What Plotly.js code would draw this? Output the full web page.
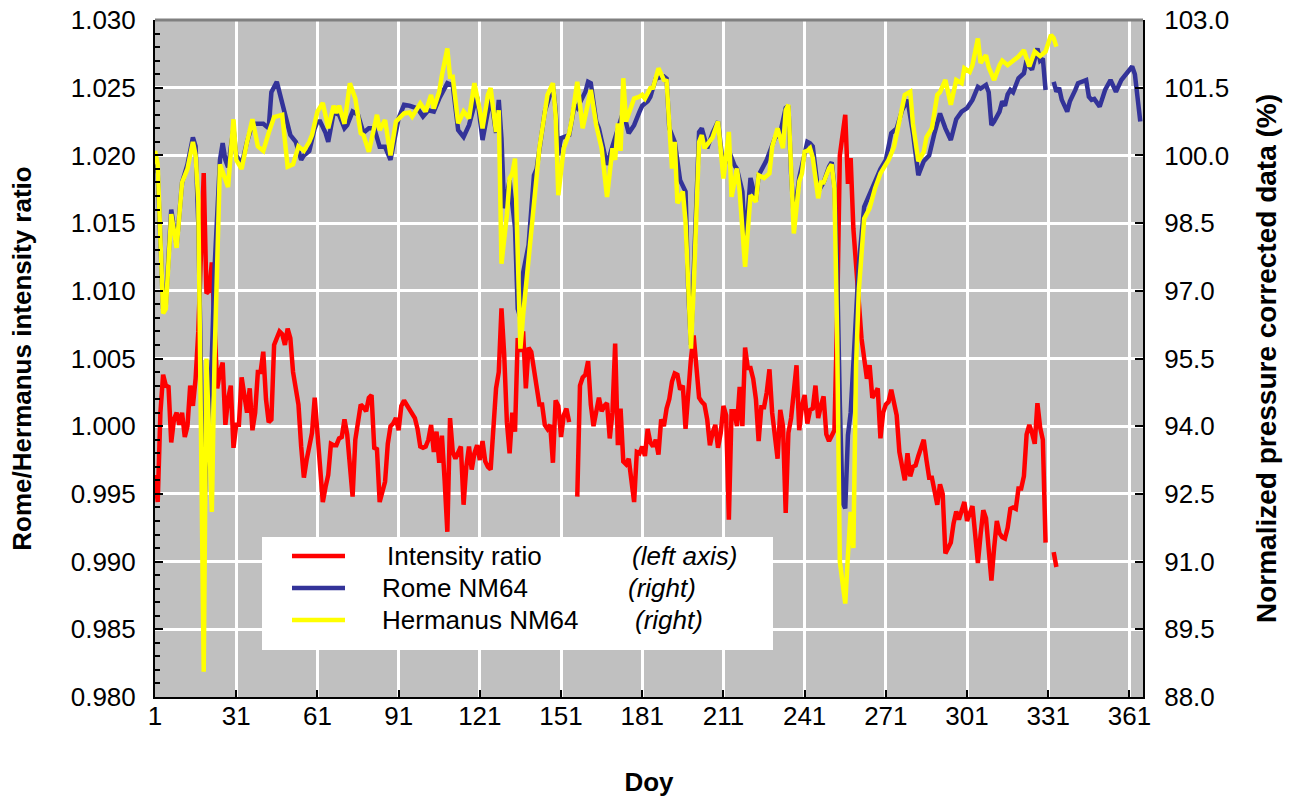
<!DOCTYPE html>
<html>
<head>
<meta charset="utf-8">
<script src="https://cdn.plot.ly/plotly-3.0.1.min.js"></script>
<style>html,body{margin:0;padding:0;background:#fff;}#chart{width:1298px;height:800px;}</style>
</head>
<body>
<div id="chart"></div>
<script>
// ---- Data ----
const xTickDays = [1,31,61,91,121,151,181,211,241,271,301,331,361];

// Intensity ratio (left axis), daily from day 1; null = missing
const ratioValues = [
0.9964,0.9944,1.0010,1.0038,1.0030,1.0029,0.9988,1.0005,1.0010,1.0001,
1.0010,0.9992,1.0000,1.0030,1.0015,1.0035,1.0070,1.0140,1.0187,1.0098,
1.0100,1.0121,1.0070,1.0028,1.0040,1.0047,1.0001,1.0020,1.0030,0.9984,
1.0001,1.0001,1.0036,1.0020,1.0010,1.0028,0.9997,1.0010,1.0040,1.0040,
1.0055,1.0020,1.0003,1.0005,1.0060,1.0065,1.0070,1.0068,1.0060,1.0072,
1.0065,1.0040,1.0030,1.0016,0.9985,0.9962,0.9975,0.9984,0.9995,1.0021,
0.9996,0.9966,0.9944,0.9955,0.9964,0.9987,0.9986,0.9986,0.9991,0.9992,
1.0005,0.9994,0.9970,0.9948,0.9990,1.0006,1.0016,1.0014,1.0011,1.0021,
1.0023,0.9984,0.9983,0.9944,0.9952,0.9959,0.9987,1.0000,1.0002,1.0006,
0.9997,1.0015,1.0019,1.0016,1.0012,1.0010,1.0006,0.9998,0.9985,0.9984,
0.9985,0.9990,1.0001,0.9981,0.9996,0.9973,0.9993,0.9960,0.9922,1.0006,
0.9981,0.9976,0.9980,0.9985,0.9942,0.9970,0.9985,0.9968,0.9980,0.9986,
0.9975,0.9989,0.9974,0.9970,0.9968,1.0003,1.0028,1.0040,1.0087,1.0053,
1.0003,0.9980,1.0010,0.9996,1.0065,1.0055,1.0070,1.0028,1.0058,1.0055,
1.0040,1.0025,1.0016,1.0016,1.0001,0.9998,1.0001,0.9973,1.0019,1.0015,
0.9992,1.0008,1.0013,1.0003,null,null,0.9948,1.0030,1.0036,1.0038,
1.0048,1.0016,1.0000,1.0010,1.0021,1.0011,1.0015,1.0017,0.9991,1.0010,
1.0061,0.9986,1.0013,0.9974,0.9972,0.9976,0.9960,0.9944,0.9981,0.9980,
0.9985,0.9978,0.9998,0.9988,0.9985,0.9990,0.9979,1.0005,1.0000,1.0013,
1.0020,1.0033,1.0039,1.0038,1.0027,1.0030,0.9998,1.0030,1.0050,1.0067,
1.0040,1.0021,1.0018,1.0016,1.0005,0.9986,0.9995,1.0001,0.9984,0.9995,
1.0015,1.0008,0.9931,1.0011,1.0011,1.0000,1.0029,1.0000,1.0058,1.0043,
1.0043,1.0035,1.0020,0.9989,1.0014,1.0014,1.0025,1.0042,1.0010,0.9995,
0.9976,1.0012,1.0000,0.9936,0.9995,1.0006,1.0030,1.0045,0.9997,1.0015,
1.0023,1.0002,1.0012,1.0013,1.0030,1.0006,1.0015,1.0022,0.9994,0.9989,
0.9993,0.9997,1.0080,1.0200,1.0215,1.0230,1.0179,1.0198,1.0146,1.0120,
1.0090,1.0065,1.0050,1.0035,1.0045,1.0021,1.0024,1.0028,0.9991,1.0010,
1.0016,1.0018,1.0027,1.0015,1.0008,0.9981,0.9971,0.9960,0.9980,0.9963,
0.9970,0.9971,0.9978,0.9985,0.9990,0.9975,0.9962,0.9962,0.9950,0.9942,
0.9957,0.9950,0.9906,0.9910,0.9914,0.9928,0.9937,0.9931,0.9938,0.9944,
0.9930,0.9935,0.9941,0.9920,0.9899,0.9920,0.9938,0.9932,0.9910,0.9886,
0.9910,0.9930,0.9921,0.9918,0.9917,0.9925,0.9939,0.9940,0.9939,0.9954,
0.9954,0.9963,0.9994,1.0001,0.9995,0.9987,1.0017,0.9999,0.9990,0.9914,
null,null,0.9907,0.9896
];

// Rome NM64 (right axis)
const romeDays = [1,2,4,5,7,9,11,13,15,16,17,18,19,20,21,22,23,24,25,26,27,28,30,31,33,35,37,39,41,43,44,46,47,49,51,53,55,56,58,60,61,62,64,65,67,69,71,72,74,76,78,80,82,84,86,88,91,93,95,98,100,102,104,106,108,109,111,113,115,117,119,120,122,124,125,127,128,129,130,132,134,135,136,137,139,141,142,145,148,149,150,151,154,156,157,160,161,162,164,165,168,170,172,174,176,178,180,181,183,184,186,189,190,191,193,194,195,197,198,199,200,202,203,205,207,209,211,213,215,216,218,219,221,223,224,227,230,232,234,235,236,237,239,240,242,243,244,246,248,250,251,252,253,254,255,256,257,258,259,260,261,263,265,267,269,271,273,275,277,279,281,283,285,287,289,291,293,295,297,299,301,302,303,305,306,308,309,310,311,313,314,315,316,317,318,320,322,323,324,325,327,328,329,330,331,332,333,334,335,336,338,339,341,342,345,346,347,348,350,351,352,354,356,358,360,361,362,363,364,365];
const romeValues = [99.8,99.6,96.6,96.7,98.8,98.0,99.4,99.8,100.4,100.2,98.5,95.0,91.8,93.4,94.3,95.5,97.5,99.0,99.9,100.27,99.9,99.74,100.6,100.0,99.8,100.3,100.7,100.7,100.7,100.6,101.4,101.63,101.4,100.9,100.45,100.3,99.9,100.0,100.1,100.6,100.75,100.75,100.5,100.3,100.95,100.9,100.6,100.67,100.97,100.9,100.5,100.6,100.6,100.19,100.19,99.9,100.82,101.12,101.1,101.04,100.86,101.0,100.97,101.26,101.5,101.6,101.55,100.56,100.41,100.67,101.12,101.3,100.34,100.95,101.3,100.5,101.23,100.38,98.83,99.45,98.4,96.6,96.4,97.4,98.01,99.56,99.7,100.97,101.55,101.0,100.0,100.38,100.45,101.12,101.05,101.41,101.63,101.6,100.75,100.6,99.79,100.2,100.6,100.97,100.49,100.67,100.97,101.1,101.2,101.3,101.7,101.75,101.7,100.6,100.3,99.8,99.45,99.2,97.0,95.8,97.5,100.52,100.6,100.16,100.5,100.75,99.7,100.1,99.79,99.7,99.2,98.0,99.5,99.0,99.56,99.9,100.38,100.5,101.05,101.1,99.6,98.6,99.5,99.8,100.3,100.27,100.2,99.2,99.4,99.75,99.85,99.3,97.5,94.5,92.3,92.18,93.8,94.3,95.3,96.3,97.57,98.86,99.12,99.42,99.7,99.9,100.49,100.6,101.0,101.23,100.5,99.56,99.87,100.0,100.5,100.93,100.6,100.34,100.8,100.97,101.05,101.15,101.23,101.52,101.48,101.56,101.4,100.67,100.75,100.97,101.2,101.1,101.35,101.45,101.4,101.71,101.82,102.11,101.97,101.9,102.37,102.1,102.15,101.45,null,null,101.63,101.41,101.5,101.23,100.97,101.2,101.45,101.6,101.67,101.3,101.23,101.25,101.08,101.3,101.45,101.67,101.41,101.67,101.82,101.9,101.97,101.8,101.19,100.75];

// Hermanus NM64 (right axis)
const hermDays = [1,2,4,5,7,9,11,13,15,16,17,18,19,20,21,22,23,24,25,28,30,31,33,35,37,39,41,43,45,48,50,52,54,56,58,59,61,63,65,67,68,69,71,73,75,77,78,80,83,84,86,88,90,93,95,96,98,99,101,103,104,106,107,109,110,111,113,115,117,119,121,122,124,125,127,128,129,131,132,133,134,136,137,139,141,143,146,148,149,150,152,153,154,155,157,159,161,162,164,166,168,170,171,172,173,174,175,178,180,181,182,184,185,187,189,190,192,193,194,196,197,199,200,202,203,204,207,209,211,213,214,216,217,219,221,223,224,226,228,229,231,233,234,235,237,239,240,241,242,243,244,246,247,248,250,251,252,253,254,256,257,258,259,260,261,263,265,267,269,271,272,274,276,278,280,281,283,285,286,288,290,291,293,295,297,299,300,302,303,305,306,308,309,311,313,314,316,317,320,322,324,326,328,330,331,332,333,334];
const hermValues = [100.1,99.8,96.5,96.6,98.7,97.95,99.4,99.7,100.3,100.0,99.0,94.0,88.56,95.5,94.0,92.1,95.5,98.0,99.8,99.3,100.8,99.9,99.7,100.3,100.8,100.2,100.1,100.5,100.85,100.9,99.75,99.8,100.2,100.1,100.3,100.45,100.97,101.16,100.6,101.1,100.94,101.1,100.7,101.6,101.26,100.49,100.45,100.08,100.9,100.56,100.78,100.0,100.75,100.93,100.95,100.86,101.04,101.15,100.97,101.34,101.04,101.41,101.78,102.37,101.74,101.74,100.71,100.97,100.82,101.6,101.0,100.6,101.34,101.49,100.52,101.0,97.6,98.68,99.49,99.6,99.93,95.72,96.46,97.72,98.97,100.16,101.34,101.6,100.9,99.12,100.16,100.3,100.49,100.8,101.63,100.6,101.2,101.45,100.67,100.16,99.08,100.16,99.9,100.71,100.1,101.71,100.75,101.26,101.3,101.34,101.26,101.49,101.5,101.93,101.67,101.65,99.71,100.3,98.94,99.2,98.53,95.72,97.05,100.3,100.45,100.16,100.4,100.75,99.49,100.52,99.08,99.71,99.2,97.53,99.12,98.97,99.56,99.5,99.6,100.19,100.6,100.16,101.0,101.12,98.27,99.42,99.6,100.08,100.1,100.16,99.95,99.05,99.4,99.4,99.71,99.8,99.27,96.0,91.0,90.07,91.15,92.1,91.3,95.35,97.0,98.6,98.83,99.27,99.6,99.79,99.9,100.19,100.75,101.34,101.41,100.7,99.87,100.08,100.4,100.6,101.34,101.4,101.67,101.12,101.67,101.6,101.93,101.85,102.0,102.59,102.05,102.22,101.95,101.67,102.0,102.1,102.0,102.05,102.19,102.33,101.97,102.3,102.2,102.3,102.52,102.67,102.6,102.41];

const ratioDays = ratioValues.map((v, i) => i + 1);

// ---- Styling ----
const FONT = '"Liberation Sans", Arial, sans-serif';
const RED = '#ff0000', BLUE = '#333399', YELLOW = '#ffff00';
const LW = 4.5;
const FS = 26;

const traces = [
  {x: ratioDays, y: ratioValues, type: 'scatter', mode: 'lines', name: 'Intensity ratio',
   line: {color: RED, width: LW}, connectgaps: false, yaxis: 'y'},
  {x: romeDays, y: romeValues, type: 'scatter', mode: 'lines', name: 'Rome NM64',
   line: {color: BLUE, width: LW}, connectgaps: false, yaxis: 'y2'},
  {x: hermDays, y: hermValues, type: 'scatter', mode: 'lines', name: 'Hermanus NM64',
   line: {color: YELLOW, width: LW}, connectgaps: false, yaxis: 'y2'}
];

// plot-area pixel frame (for placing the in-plot legend box)
const L = 155, R = 1143, T = 20, B = 697;
const fx = px => (px - L) / (R - L);
const fy = py => (B - py) / (B - T);

const legendRows = [
  {py: 556, color: RED,    label: 'Intensity ratio', lx: 385, note: '(left axis)', nx: 630},
  {py: 588, color: BLUE,   label: 'Rome NM64',       lx: 380, note: '(right)',     nx: 626},
  {py: 620, color: YELLOW, label: 'Hermanus NM64',   lx: 380, note: '(right)',     nx: 633}
];

const shapes = [
  {type: 'line', xref: 'paper', yref: 'paper', x0: 0, x1: 1, y0: 1, y1: 1,
   line: {color: '#808080', width: 3}, layer: 'above'},
  {type: 'rect', xref: 'paper', yref: 'paper', x0: fx(262), x1: fx(773), y0: fy(650), y1: fy(537),
   fillcolor: '#ffffff', line: {width: 0}, layer: 'above'}
];
const annotations = [];
legendRows.forEach(r => {
  shapes.push({type: 'line', xref: 'paper', yref: 'paper', x0: fx(292), x1: fx(345), y0: fy(r.py), y1: fy(r.py),
    line: {color: r.color, width: LW}, layer: 'above'});
  annotations.push({xref: 'paper', yref: 'paper', x: fx(r.lx), y: fy(r.py), xanchor: 'left', yanchor: 'middle',
    text: r.label, showarrow: false, font: {family: FONT, size: FS, color: '#000'}});
  annotations.push({xref: 'paper', yref: 'paper', x: fx(r.nx), y: fy(r.py), xanchor: 'left', yanchor: 'middle',
    text: '<i>' + r.note + '</i>', showarrow: false, font: {family: FONT, size: FS, color: '#000'}});
});

const layout = {
  width: 1298, height: 800,
  margin: {l: L, r: 1298 - R, t: T, b: 800 - B},
  paper_bgcolor: '#ffffff', plot_bgcolor: '#c0c0c0',
  showlegend: false,
  font: {family: FONT, size: FS, color: '#000'},
  xaxis: {
    range: [1, 366], tickmode: 'array', tickvals: xTickDays, ticktext: xTickDays.map(String),
    ticks: 'inside', ticklen: 7, tickwidth: 1.5, tickcolor: '#000',
    showgrid: true, gridcolor: '#ffffff', gridwidth: 3, zeroline: false,
    showline: true, linecolor: '#000', linewidth: 2,
    tickfont: {family: FONT, size: FS}, ticklabelstandoff: -5,
    title: {text: '<b>Doy</b>', font: {family: FONT, size: FS}, standoff: 43}
  },
  yaxis: {
    range: [0.98, 1.03], dtick: 0.005, tick0: 0.98, tickformat: '.3f',
    ticks: 'inside', ticklen: 8, tickwidth: 1.5, tickcolor: '#000',
    minor: {dtick: 0.001, ticks: 'inside', ticklen: 5, tickcolor: '#000', showgrid: false},
    showgrid: true, gridcolor: '#ffffff', gridwidth: 3, zeroline: false,
    showline: true, linecolor: '#000', linewidth: 2,
    tickfont: {family: FONT, size: FS}, ticklabelstandoff: 12,
    title: {text: '<b>Rome/Hermanus intensity ratio</b>', font: {family: FONT, size: FS}, standoff: 32}
  },
  yaxis2: {
    overlaying: 'y', side: 'right', range: [88, 103], dtick: 1.5, tick0: 88, tickformat: '.1f',
    ticks: 'inside', ticklen: 8, tickwidth: 1.5, tickcolor: '#000',
    showgrid: false, zeroline: false, showline: true, linecolor: '#000', linewidth: 2,
    tickfont: {family: FONT, size: FS}, ticklabelstandoff: 14,
    title: {text: '<b>Normalized pressure corrected data (%)</b>', font: {family: FONT, size: 28}, standoff: 28}
  },
  shapes: shapes,
  annotations: annotations
};

Plotly.newPlot('chart', traces, layout, {displayModeBar: false, responsive: false});
</script>
</body>
</html>
